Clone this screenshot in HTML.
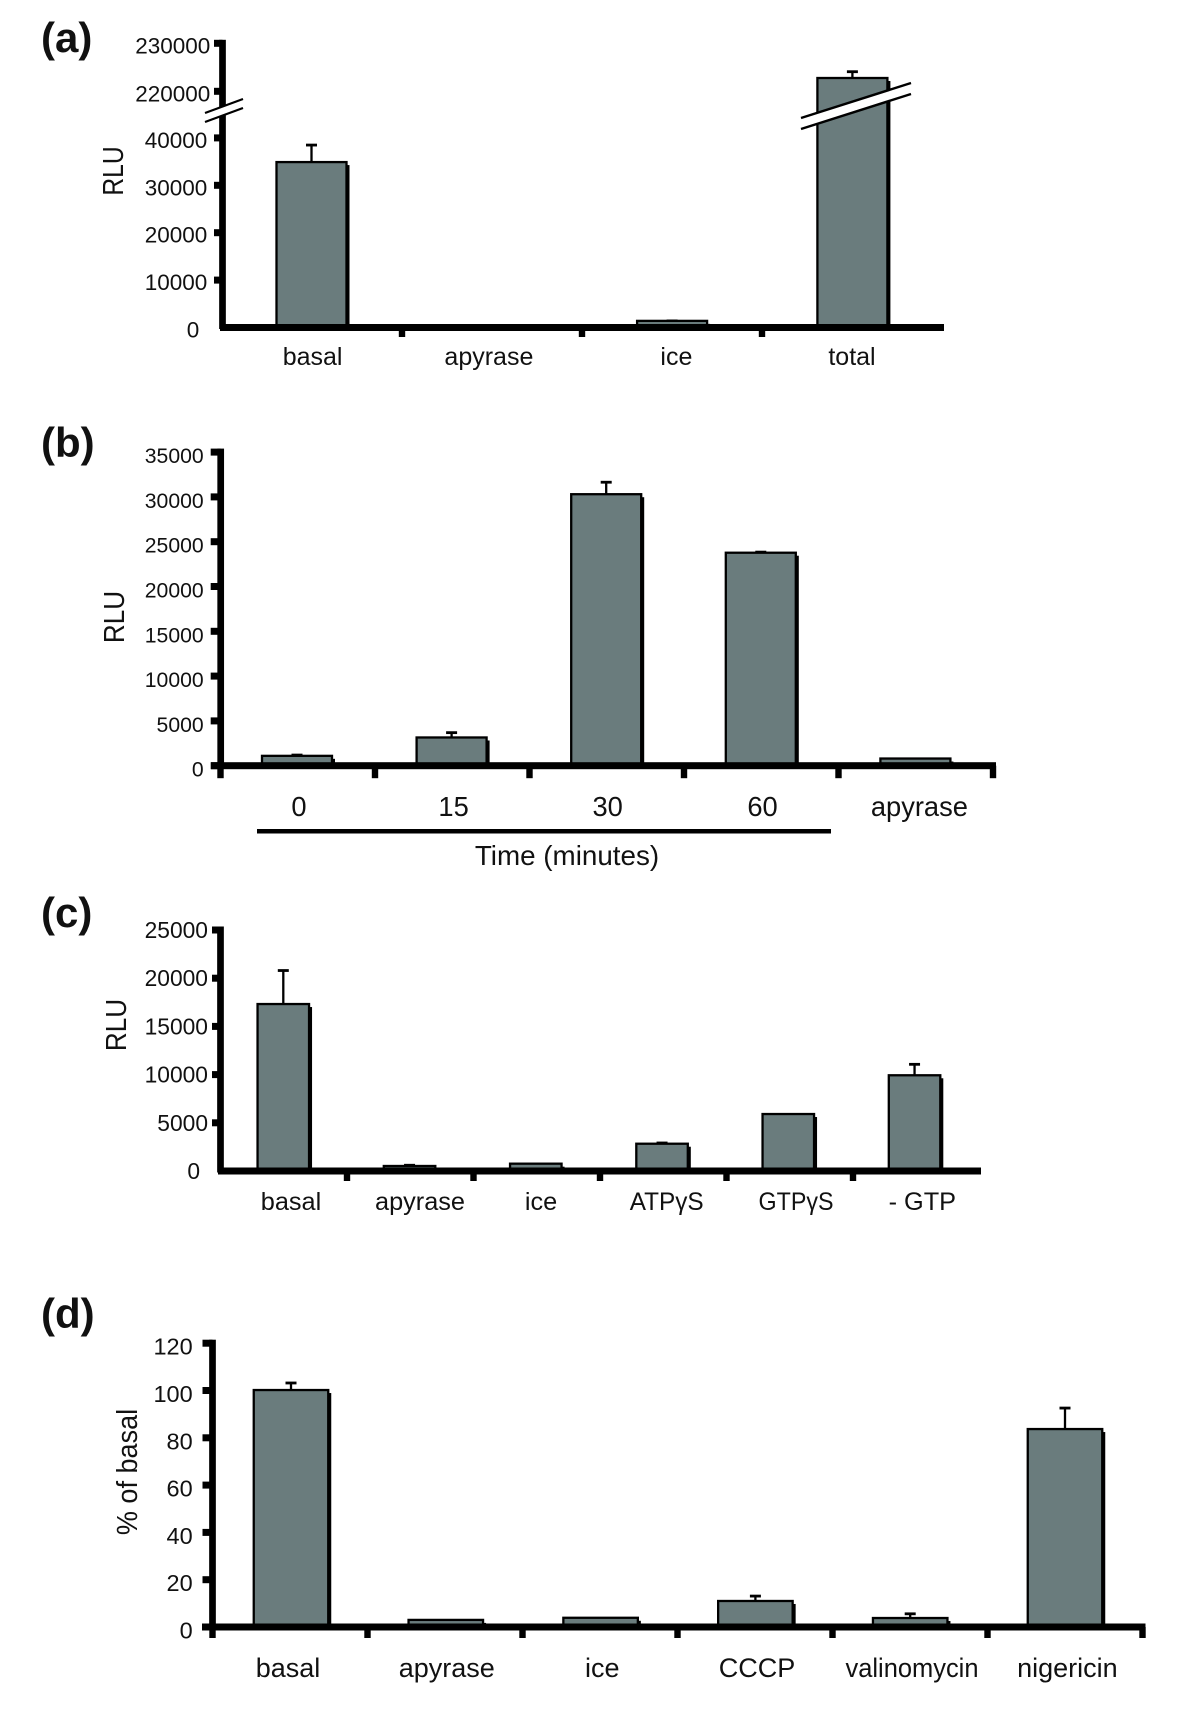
<!DOCTYPE html>
<html lang="en">
<head>
<meta charset="utf-8">
<title>RLU bar charts, panels a to d</title>
<style>
html,body{margin:0;padding:0;background:#fff;}
svg{display:block;}
text{font-family:"Liberation Sans",Arial,sans-serif;fill:#111;}
</style>
</head>
<body>
<svg id="fig" xmlns="http://www.w3.org/2000/svg" width="1200" height="1727" viewBox="0 0 1200 1727">
<rect x="0" y="0" width="1200" height="1727" fill="#fff"/>
<text x="41" y="52" font-size="42" font-weight="700">(a)</text>
<text x="41" y="457" font-size="42" font-weight="700">(b)</text>
<text x="41" y="927" font-size="42" font-weight="700">(c)</text>
<text x="41" y="1328" font-size="42" font-weight="700">(d)</text>
<text transform="translate(123,171) rotate(-90) scale(0.85,1)" text-anchor="middle" font-size="29">RLU</text>
<text transform="translate(124,617) rotate(-90) scale(0.9,1)" text-anchor="middle" font-size="29">RLU</text>
<text transform="translate(126,1025) rotate(-90) scale(0.9,1)" text-anchor="middle" font-size="29">RLU</text>
<text transform="translate(137,1472) rotate(-90) scale(0.95,1)" text-anchor="middle" font-size="28.5">% of basal</text>
<rect x="257" y="829" width="574" height="4.5" fill="#000"/>
<text x="567" y="865" text-anchor="middle" font-size="27.8">Time (minutes)</text>
<g id="panels"></g>
<g>
  <polygon points="205,113 243,99 243,108 205,122" fill="#fff"/>
  <line x1="205" y1="113" x2="243" y2="99" stroke="#000" stroke-width="2.2"/>
  <line x1="205" y1="122" x2="243" y2="108" stroke="#000" stroke-width="2.2"/>
</g>
<g>
  <polygon points="801,118 911,83 911,94 801,129" fill="#fff"/>
  <line x1="801" y1="118" x2="911" y2="83" stroke="#000" stroke-width="2.4"/>
  <line x1="801" y1="129" x2="911" y2="94" stroke="#000" stroke-width="2.4"/>
</g>
</svg>
<script>
// Panel (a)
const aCategories = ['basal', 'apyrase', 'ice', 'total'];
const aValues = [34900, 0, 1400, 222770];
const aUpper = [38700, 0, 1600, 224290];
const aTicks = [0, 10000, 20000, 30000, 40000, 220000, 230000];
const aTickLabels = ['0', '10000', '20000', '30000', '40000', '220000', '230000'];

// Panel (b)
const bCategories = ['0', '15', '30', '60', 'apyrase'];
const bValues = [1100, 3150, 30300, 23770, 800];
const bUpper = [1300, 3800, 31750, 23950, 800];
const bTicks = [0, 5000, 10000, 15000, 20000, 25000, 30000, 35000];
const bTickLabels = ['0', '5000', '10000', '15000', '20000', '25000', '30000', '35000'];

// Panel (c)
const cCategories = ['basal', 'apyrase', 'ice', 'ATP\u03B3S', 'GTP\u03B3S', '- GTP'];
const cValues = [17320, 520, 760, 2830, 5910, 9930];
const cUpper = [20900, 700, 760, 3010, 5910, 11170];
const cTicks = [0, 5000, 10000, 15000, 20000, 25000];
const cTickLabels = ['0', '5000', '10000', '15000', '20000', '25000'];

// Panel (d)
const dCategories = ['basal', 'apyrase', 'ice', 'CCCP', 'valinomycin', 'nigericin'];
const dValues = [100.2, 3, 3.9, 11, 3.8, 83.7];
const dUpper = [103.6, 3, 3.9, 13.5, 6, 93];
const dTicks = [0, 20, 40, 60, 80, 100, 120];
const dTickLabels = ['0', '20', '40', '60', '80', '100', '120'];

const SVGNS = 'http://www.w3.org/2000/svg';
const BAR_FILL = '#6a7c7d';

function make(parent, tag, props, text) {
  const el = document.createElementNS(SVGNS, tag);
  for (const k in props) el.setAttribute(k, props[k]);
  if (text !== undefined) el.textContent = text;
  parent.appendChild(el);
  return el;
}

function linearY(y0, pxPerUnit) {
  return function (v) { return y0 - v * pxPerUnit; };
}

function brokenY(v) {
  // Panel (a) axis: lower segment to 40000, upper segment from 220000.
  if (v <= 100000) return 327.5 - v * 0.00474;
  return 91.3 - (v - 220000) * 0.0048;
}

function drawPanel(p) {
  const root = document.getElementById('panels');
  const g = make(root, 'g', {});
  
  
  const barX = function (i) { return p.firstCenter + i * p.step; };

  p.categories.forEach(function (cat, i) {
    const top = p.y(p.values[i]);
    const base = p.y(0);
    const cx = barX(i);
    const left = cx - p.barW / 2;

    if (p.upper[i] > p.values[i]) {
      const errTop = p.y(p.upper[i]);
      const stem = make(g, 'line', { x1: cx, x2: cx, y1: top, y2: errTop, stroke: '#000', 'stroke-width': 2.3 });
      
      
      const cap = make(g, 'line', { x1: cx - 5.5, x2: cx + 5.5, y1: errTop + 1, y2: errTop + 1, stroke: '#000', 'stroke-width': 2.8 });
      
      
    }

    const shadowH = Math.max(base - top - 3, 0);
    const shadow = make(g, 'rect', { x: left + p.barW - 1, y: top + 3, width: 4, height: shadowH, fill: '#000' });
    
    

    const bar = make(g, 'rect', { x: left, y: top, width: p.barW, height: Math.max(base - top, 0), fill: BAR_FILL, stroke: '#000', 'stroke-width': 2.3 });
    
    

    const lab = make(g, 'text', { x: cx + p.labelNudge[i], y: p.labelY, 'text-anchor': 'middle', 'font-size': p.labelSize }, cat);
    if (p.labelFit[i]) {
      lab.setAttribute('textLength', p.labelFit[i]);
      lab.setAttribute('lengthAdjust', 'spacingAndGlyphs');
    }
    
    
  });

  const topTick = p.y(p.ticks[p.ticks.length - 1]);
  const yAxis = make(g, 'rect', { x: p.axisX - 3.35, y: topTick - 3.5, width: 6.7, height: p.y(0) - topTick + 5, fill: '#000' });
  
  

  const xAxis = make(g, 'rect', { x: p.xStart, y: p.y(0) - 3.5, width: p.xEnd - p.xStart, height: 7, fill: '#000' });
  
  

  p.ticks.forEach(function (t, i) {
    const ty = p.y(t);
    if (!(t === 0 && p.skipZeroTick)) {
      const tick = make(g, 'rect', { x: p.axisX - p.yTickLen, y: ty - 3.5, width: p.yTickLen, height: 7, fill: '#000' });
      
      
    }
    const lab = make(g, 'text', { x: p.tickRight + p.tickNudge[i], y: ty + p.tickBase, 'text-anchor': 'end', 'font-size': p.tickSize }, p.tickLabels[i]);
    
    
  });

  for (let i = 0; i < p.xTickCount; i++) {
    const tx = p.xTickStart + i * p.xTickStep;
    const tick = make(g, 'rect', { x: tx - 3.2, y: p.y(0), width: 6.4, height: p.xTickLen, fill: '#000' });
    
    
  }
}

drawPanel({
  id: 'a', categories: aCategories, values: aValues, upper: aUpper, ticks: aTicks, tickLabels: aTickLabels,
  y: brokenY, axisX: 222.5, xStart: 220, xEnd: 944, firstCenter: 311.5, step: 180.3, barW: 70,
  labelNudge: [1.1, -2.9, 4.3, -0.4], labelFit: {}, labelY: 365, labelSize: 25,
  tickRight: 210.3, tickNudge: [-11, -3, -3, -3, -3, 0, 0], tickBase: 10, tickSize: 22.5, yTickLen: 8.5, skipZeroTick: true,
  xTickStart: 402, xTickStep: 180, xTickCount: 3, xTickLen: 9.5
});
drawPanel({
  id: 'b', categories: bCategories, values: bValues, upper: bUpper, ticks: bTicks, tickLabels: bTickLabels,
  y: linearY(765.7, 44.8 / 5000), axisX: 220.7, xStart: 211, xEnd: 996, firstCenter: 297, step: 154.6, barW: 70,
  labelNudge: [2, 2, 1.5, 1.7, 4], labelFit: {}, labelY: 816, labelSize: 27.3,
  tickRight: 203.7, tickNudge: [0, 0, 0, 0, 0, 0, 0, 0], tickBase: 11, tickSize: 21.2, yTickLen: 10, skipZeroTick: false,
  xTickStart: 220.5, xTickStep: 154.5, xTickCount: 6, xTickLen: 12.5
});
drawPanel({
  id: 'c', categories: cCategories, values: cValues, upper: cUpper, ticks: cTicks, tickLabels: cTickLabels,
  y: linearY(1171, 48.2 / 5000), axisX: 220.5, xStart: 218, xEnd: 981, firstCenter: 283.3, step: 126.25, barW: 51.5,
  labelNudge: [7.7, 10.45, 5.2, 4.65, 7.7, 7.75], labelFit: { 3: 74, 4: 75 }, labelY: 1210, labelSize: 25.3,
  tickRight: 208, tickNudge: [-8, 0, 0, 0, 0, 0], tickBase: 8, tickSize: 22.8, yTickLen: 8.5, skipZeroTick: true,
  xTickStart: 347, xTickStep: 126.5, xTickCount: 5, xTickLen: 10
});
drawPanel({
  id: 'd', categories: dCategories, values: dValues, upper: dUpper, ticks: dTicks, tickLabels: dTickLabels,
  y: linearY(1627, 47.3 / 20), axisX: 212.5, xStart: 202, xEnd: 1145.5, firstCenter: 291, step: 154.8, barW: 74.5,
  labelNudge: [-3, 1, 1.7, 1.6, 1.8, 2.4], labelFit: { 4: 133 }, labelY: 1677, labelSize: 27,
  tickRight: 192.7, tickNudge: [0, 0, 0, 0, 0, 0, 0], tickBase: 11.5, tickSize: 23.5, yTickLen: 10, skipZeroTick: false,
  xTickStart: 212.5, xTickStep: 155, xTickCount: 7, xTickLen: 11
});
</script>
</body>
</html>
